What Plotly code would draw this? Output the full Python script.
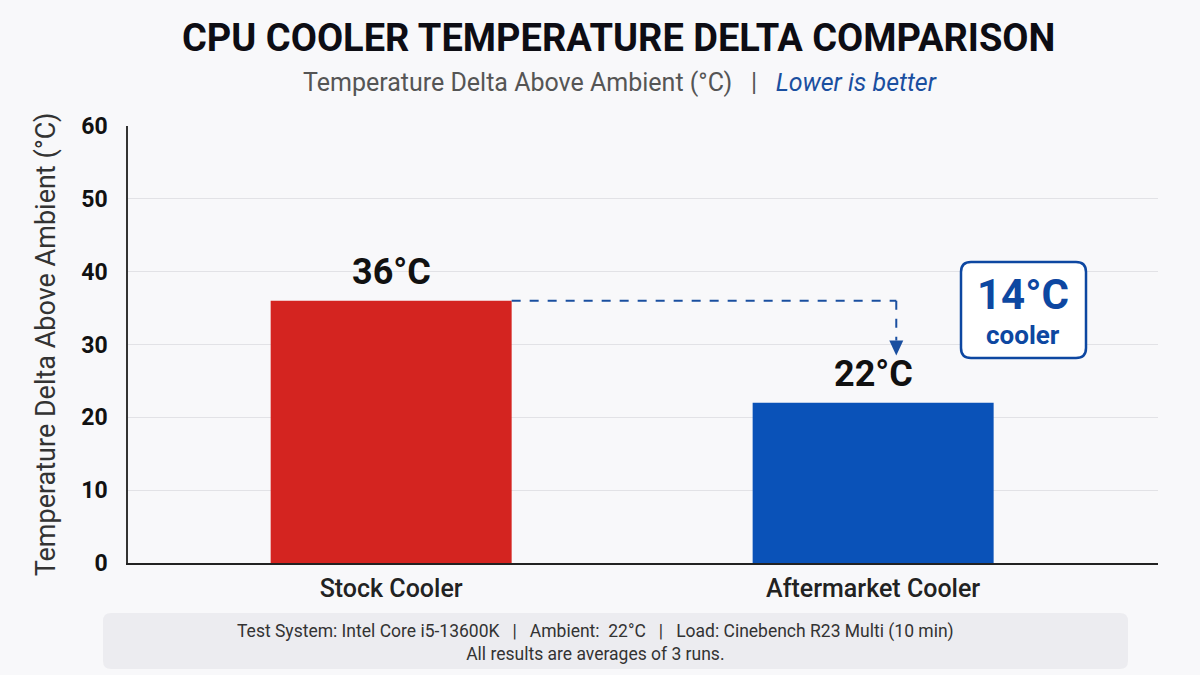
import plotly.graph_objects as go

# ---- data ----
categories = ["Stock Cooler", "Aftermarket Cooler"]
temps = [36, 22]
value_labels = ["36°C", "22°C"]
bar_colors = ["#d42420", "#0a52b8"]
y_ticks = [0, 10, 20, 30, 40, 50, 60]

title_text = "CPU COOLER TEMPERATURE DELTA COMPARISON"
subtitle_main = "Temperature Delta Above Ambient (°C)"
subtitle_note = "Lower is better"
y_title = "Temperature Delta Above Ambient (°C)"
footer_line1 = ("Test System: Intel Core i5-13600K \u00a0\u00a0|\u00a0\u00a0 Ambient: \u00a022°C "
                "\u00a0\u00a0|\u00a0\u00a0 Load: Cinebench R23 Multi (10 min)")
footer_line2 = "All results are averages of 3 runs."

delta = temps[0] - temps[1]

BG = "#f8f8fa"
BLUE = "#0d47a1"
ARROW = "#1a4fa0"
BAR_W = 0.5

W, H = 1200, 675
ML, MR, MT, MB = 128, 42, 126, 112
PW, PH = W - ML - MR, H - MT - MB
X_RANGE = [-0.546, 1.591]
Y_RANGE = [0, 60]
PX_PER_X = PW / (X_RANGE[1] - X_RANGE[0])
PX_PER_Y = PH / (Y_RANGE[1] - Y_RANGE[0])


def fx(p):
    return (p - ML) / PW


def fy(p):
    return (H - MB - p) / PH


fig = go.Figure()
fig.add_trace(go.Bar(
    x=categories, y=temps, width=BAR_W,
    marker=dict(color=bar_colors, line=dict(width=0)),
    hoverinfo="skip", showlegend=False,
))

# connector: from top of stock bar across, then down towards the aftermarket label
arrow_x = 1.048
tip_y = 28.5
head_h = 15 / PX_PER_Y
head_hw = 7 / PX_PER_X

shapes = [
    dict(type="line", xref="x", yref="y", x0=0 + BAR_W / 2, x1=arrow_x,
         y0=temps[0], y1=temps[0], line=dict(color=ARROW, width=2, dash="dash")),
    dict(type="line", xref="x", yref="y", x0=arrow_x, x1=arrow_x,
         y0=temps[0], y1=tip_y + head_h, line=dict(color=ARROW, width=2, dash="dash")),
    dict(type="path", xref="x", yref="y",
         path=(f"M {arrow_x - head_hw},{tip_y + head_h} L {arrow_x + head_hw},{tip_y + head_h} "
               f"L {arrow_x},{tip_y} Z"),
         fillcolor=ARROW, line=dict(width=0)),
]


def rounded_rect(x0, y0, x1, y1, rx, ry):
    return (f"M {x0+rx},{y0} L {x1-rx},{y0} Q {x1},{y0} {x1},{y0+ry} "
            f"L {x1},{y1-ry} Q {x1},{y1} {x1-rx},{y1} L {x0+rx},{y1} "
            f"Q {x0},{y1} {x0},{y1-ry} L {x0},{y0+ry} Q {x0},{y0} {x0+rx},{y0} Z")


# footer box
shapes.append(dict(type="path", xref="paper", yref="paper",
                   path=rounded_rect(fx(103), fy(669), fx(1128), fy(613), 8 / PW, 8 / PH),
                   fillcolor="#ececf0", line=dict(width=0), layer="below"))
# delta callout box
shapes.append(dict(type="path", xref="paper", yref="paper",
                   path=rounded_rect(fx(961), fy(358), fx(1086), fy(262), 10 / PW, 10 / PH),
                   fillcolor="white", line=dict(color=BLUE, width=2.5)))

annotations = [
    dict(text=f"<b>{title_text}</b>", x=fx(618), y=fy(38), xref="paper", yref="paper",
         xanchor="center", yanchor="middle", showarrow=False,
         font=dict(family="Roboto", size=38, color="#0d0d14")),
    dict(text=(f"{subtitle_main}\u00a0\u00a0 | \u00a0\u00a0"
               f"<i><span style='color:#1a4fa0'>{subtitle_note}</span></i>"),
         x=fx(620), y=fy(82), xref="paper", yref="paper", xanchor="center", yanchor="middle",
         showarrow=False, font=dict(family="Roboto", size=25, color="#555555")),
    dict(text=f"<b>{delta}°C</b>", x=fx(1023), y=fy(294), xref="paper", yref="paper",
         xanchor="center", yanchor="middle", showarrow=False,
         font=dict(family="Roboto", size=42, color=BLUE)),
    dict(text="<b>cooler</b>", x=fx(1023), y=fy(335), xref="paper", yref="paper",
         xanchor="center", yanchor="middle", showarrow=False,
         font=dict(family="Roboto", size=26, color=BLUE)),
    dict(text=f"{footer_line1}<br>{footer_line2}", x=fx(595), y=fy(642), xref="paper", yref="paper",
         xanchor="center", yanchor="middle", showarrow=False,
         font=dict(family="Roboto", size=17.5, color="#333333")),
]

for cat, v, lab in zip(categories, temps, value_labels):
    annotations.append(dict(text=f"<b>{lab}</b>", x=cat, y=v, xref="x", yref="y",
                            xanchor="center", yanchor="bottom", yshift=6, showarrow=False,
                            font=dict(family="Roboto", size=36, color="#111111")))

fig.update_layout(
    width=W, height=H,
    margin=dict(l=ML, r=MR, t=MT, b=MB),
    paper_bgcolor=BG, plot_bgcolor=BG,
    shapes=shapes, annotations=annotations,
    xaxis=dict(type="category", categoryorder="array", categoryarray=categories,
               range=X_RANGE, showgrid=False, showline=True, linecolor="#222222",
               linewidth=1.5, ticks="", ticklabelstandoff=2,
               tickfont=dict(family="Roboto", size=25, color="#222222", weight=500),
               fixedrange=True),
    yaxis=dict(range=Y_RANGE, tickvals=y_ticks, showgrid=True, gridcolor="#e2e2e6", gridwidth=1,
               showline=True, linecolor="#333333", linewidth=1.5, zeroline=False, ticks="",
               ticklabelstandoff=14,
               tickfont=dict(family="Roboto", size=23, color="#111111", weight="bold"),
               title=dict(text=y_title, standoff=18,
                          font=dict(family="Roboto", size=27, color="#333333")),
               fixedrange=True),
)

fig.write_html("out.html")
